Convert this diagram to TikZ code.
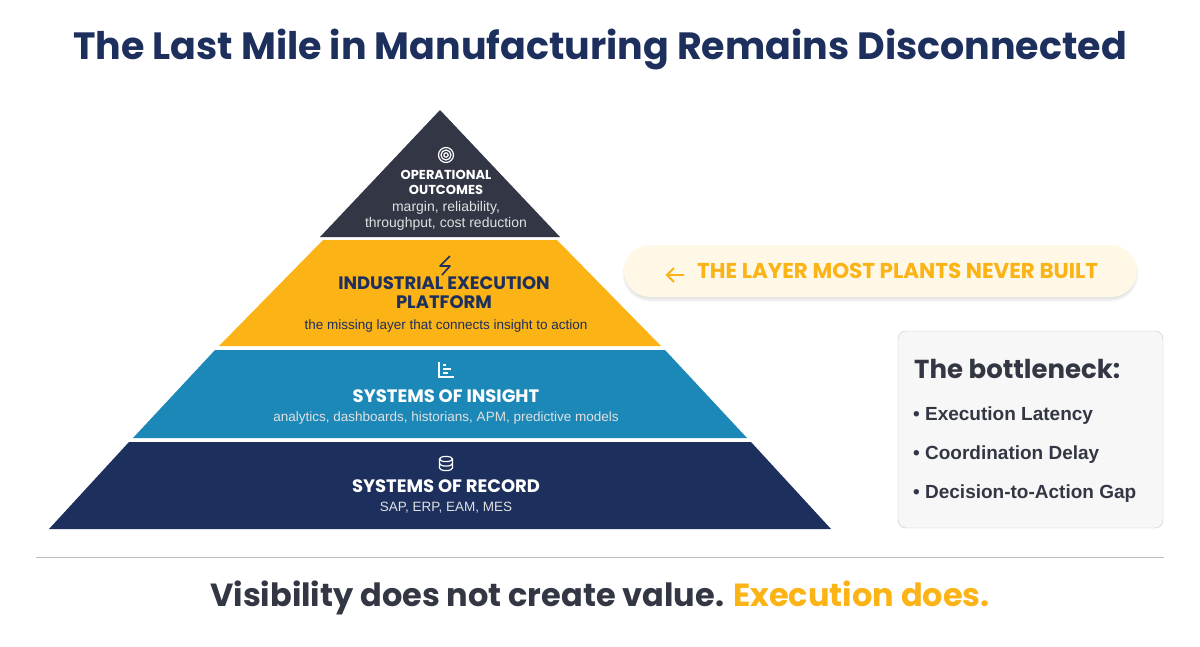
\documentclass[tikz,border=0pt]{standalone}
\usepackage{fontspec}
\setmainfont{Liberation Sans}
\newfontfamily\popfont{Poppins}
\usetikzlibrary{positioning,shadows.blur}
\definecolor{navy}{HTML}{1D2F5C}
\definecolor{slate}{HTML}{323645}
\definecolor{gold}{HTML}{FBB316}
\definecolor{teal}{HTML}{1C88B8}
\definecolor{ink}{HTML}{333744}
\definecolor{cream}{HTML}{FFF8E6}
\tikzset{
  head/.style = {font=\popfont\bfseries\fontsize{18}{19}\selectfont, align=center, inner sep=0pt},
  sub/.style = {font=\fontsize{13.5}{16}\selectfont, align=center, inner sep=0pt, text=white!88!black},
  item/.style = {font=\bfseries\fontsize{19}{20}\selectfont, text=ink, anchor=west, inner sep=0pt},
}
\begin{document}
\begin{tikzpicture}[x=1pt, y=-1pt]
  \useasboundingbox (0,0) rectangle (1200,646);
  % title
  \node[font=\popfont\bfseries\fontsize{38}{42}\selectfont, text=navy] (title) at (600,50) {The Last Mile in Manufacturing Remains Disconnected};
  % pyramid layers
  \fill[slate] (440,110) -- (560,237) -- (320,237) -- cycle;
  \fill[gold] (323,240) -- (557,240) -- (661,346) -- (219,346) -- cycle;
  \fill[teal] (215,350) -- (665,350) -- (747,438) -- (133,438) -- cycle;
  \fill[navy] (129,442) -- (751,442) -- (831,529) -- (49,529) -- cycle;
  % icons
  \foreach \r in {7.5,5,2.2} \draw[white, line width=1.2pt] (446,155) circle (\r);
  \draw[navy, line width=1.6pt, line join=round] (450,256) -- (440,266) -- (450,266) -- (442,275);
  \draw[white, line width=1.1pt] (439,362) -- (439,377) -- (454,377)
    (443,373) -- (448,373) (443,369) -- (451,369) (443,365) -- (446,365);
  \draw[white, line width=1.2pt] (446,459) ellipse (6.5 and 2.6);
  \draw[white, line width=1.2pt] (439.5,459) -- (439.5,468)
    arc[start angle=180, end angle=360, x radius=6.5, y radius=-2.6] -- (452.5,459);
  \draw[white, line width=1.2pt] (439.5,463.5)
    arc[start angle=180, end angle=360, x radius=6.5, y radius=-2.6];
  % layer texts
  \node[head, text=white, font=\popfont\bfseries\fontsize{13}{15}\selectfont] (outcomes) at (446,182) {OPERATIONAL\\OUTCOMES};
  \node[sub, font=\fontsize{14}{16}\selectfont] (outcomesub) at (446,216) {margin, reliability,\\throughput, cost reduction};
  \node[head, text=navy] (exec) at (444,293) {INDUSTRIAL EXECUTION\\PLATFORM};
  \node[sub, text=navy] (execsub) at (446,326) {the missing layer that connects insight to action};
  \node[head, text=white] (insight) at (446,396) {SYSTEMS OF INSIGHT};
  \node[sub] (insightsub) at (446,418) {analytics, dashboards, historians, APM, predictive models};
  \node[head, text=white] (record) at (446,486) {SYSTEMS OF RECORD};
  \node[sub] (recordsub) at (446,508) {SAP, ERP, EAM, MES};
  % callout
  \node[fill=cream, rounded corners=26pt, minimum width=513pt, minimum height=52pt, blur shadow={shadow blur steps=8, shadow xshift=0pt, shadow yshift=-3pt, shadow opacity=12}] (callout) at (880.5,271) {};
  \node[font=\popfont\bfseries\fontsize{21.5}{24}\selectfont, text=gold, anchor=west, inner sep=0pt] (calltext) at (697,271) {THE LAYER MOST PLANTS NEVER BUILT};
  \draw[gold, line width=1.8pt] (684,275) -- (667,275) (674,268) -- (667,275) -- (674,282);
  % bottleneck box
  \node[draw=black!22, fill=black!3, rounded corners=8pt, minimum width=265pt, minimum height=197pt] (box) at (1030.5,429.5) {};
  \node[font=\popfont\bfseries\fontsize{26}{28}\selectfont, text=ink, anchor=west, inner sep=0pt] (boxtitle) at (914,369) {The bottleneck:};
  \node[item] (b1) at (913,416) {\textbullet\ Execution Latency};
  \node[item] (b2) at (913,455) {\textbullet\ Coordination Delay};
  \node[item] (b3) at (913,494) {\textbullet\ Decision-to-Action Gap};
  % rule and closing line
  \draw[black!25, line width=0.8pt] (36,557) -- (1164,557);
  \node[font=\popfont\bfseries\fontsize{32}{36}\selectfont, text=ink] (closing) at (600,598) {Visibility does not create value. \textcolor{gold}{Execution does.}};
\end{tikzpicture}
\end{document}
